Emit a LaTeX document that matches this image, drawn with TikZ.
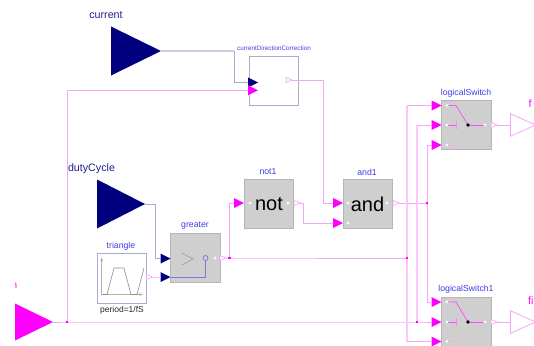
\documentclass[tikz,border=0pt]{standalone}
\usepackage{fontspec}
\setmainfont{Liberation Sans}
\usetikzlibrary{shapes.geometric,arrows.meta}
\definecolor{navyfill}{HTML}{00007F}
\definecolor{mag}{HTML}{FF00FF}
\definecolor{magline}{HTML}{F7A6F7}
\definecolor{magpale}{HTML}{FBC4FB}
\definecolor{navline}{HTML}{ABABD0}
\definecolor{bluetext}{HTML}{3C3CE6}
\definecolor{blockgray}{HTML}{CFCFCF}
\definecolor{namenavy}{HTML}{20208A}
\tikzset{
  tri/.style={isosceles triangle,isosceles triangle stretches,inner sep=0pt,outer sep=0pt,anchor=lower side},
  navybig/.style={tri,fill=navyfill,draw=none},
  magbig/.style={tri,fill=mag,draw=none},
  innavy/.style={tri,fill=navyfill,minimum width=10pt,minimum height=10pt},
  inmag/.style={tri,fill=mag,minimum width=10pt,minimum height=10pt},
  outhollow/.style={tri,draw=magline,fill=white,line width=.7pt,minimum width=5pt,minimum height=6pt},
  outbig/.style={tri,draw=magline,fill=white,line width=.8pt,minimum width=22.5pt,minimum height=25pt},
  block/.style={rectangle,fill=blockgray,draw=blockgray!88!black,line width=.5pt,minimum width=49.5pt,minimum height=49.5pt,inner sep=0pt,outer sep=0pt,anchor=north west},
  whitebox/.style={rectangle,fill=white,draw=navline,line width=.8pt,minimum width=49.5pt,minimum height=49.5pt,inner sep=0pt,outer sep=0pt,anchor=north west},
  blockname/.style={text=bluetext,font=\fontsize{8.7}{10}\selectfont,inner sep=0pt},
  conn/.style={draw=magline,line width=.9pt,line join=miter},
  connpale/.style={draw=magpale,line width=1.3pt},
  nconn/.style={draw=navline,line width=.9pt},
  junction/.style={rectangle,fill=mag,minimum size=2.8pt,inner sep=0pt,outer sep=0pt},
  pin/.style={circle,fill=white!85!blockgray,minimum size=3.2pt,inner sep=0pt,outer sep=0pt},
  portname/.style={inner sep=0pt,font=\fontsize{10.7}{12}\selectfont},
  bigword/.style={inner sep=0pt,font=\fontsize{20}{22}\selectfont},
  iconline/.style={draw=black!45,line width=.6pt},
  swline/.style={draw=mag!70!white,line width=.7pt}
}
\begin{document}
\begin{tikzpicture}[x=1pt,y=-1pt]
\useasboundingbox (0,0) rectangle (534,345);
% blocks
\node[whitebox] (cdc) at (249.3,56) {};
\node[blockname,font=\fontsize{6.3}{7}\selectfont] (cdcname) at (274,48.5) {currentDirectionCorrection};
\node[whitebox] (tria) at (97,253.5) {};
\node[blockname] (trianame) at (121,246) {triangle};
\node[inner sep=0pt,font=\fontsize{8.5}{10}\selectfont,text=black!85] (trilabel) at (122,310.5) {period=1/fS};
\node[block] (gr) at (170.5,233) {};
\node[blockname] (grname) at (195,226) {greater};
\node[block] (notb) at (244,179) {};
\node[bigword] (nottext) at (269,204) {not};
\node[blockname] (notname) at (268,172) {not1};
\node[block] (andb) at (343,179) {};
\node[bigword] (andtext) at (367.5,204) {and};
\node[blockname] (andname) at (367,172) {and1};
\node[block] (ls) at (441.5,100) {};
\node[blockname] (lsname) at (466,93) {logicalSwitch};
\node[block] (ls1) at (441.5,297) {};
\node[blockname] (ls1name) at (466,289.5) {logicalSwitch1};
% big ports
\node[navybig,minimum width=49pt,minimum height=50pt] (current) at (111,51) {};
\node[portname,text=namenavy] (currentname) at (106,15) {current};
\node[navybig,minimum width=49pt,minimum height=48pt] (duty) at (97,204) {};
\node[portname,text=namenavy] (dutyname) at (91.5,169) {dutyCycle};
\node[magbig,minimum width=37pt,minimum height=38pt] (fs) at (15,322) {};
\begin{scope}
\clip (15,275) rectangle (30,295);
\node[inner sep=0pt,text=mag,font=\fontsize{10}{12}\selectfont] (fsname) at (14.5,286) {n};
\end{scope}
\node[outbig] (fo) at (510.5,125) {};
\node[portname,text=mag,anchor=west] (foname) at (528.5,104) {f};
\node[outbig] (fio) at (510.5,322) {};
\node[portname,text=mag,anchor=west] (fioname) at (528,301) {fi};
% input triangles
\node[innavy] (cdci) at (248,82.5) {};
\node[inmag] (cdcs) at (248,90.3) {};
\node[innavy] (gru) at (160.5,258.5) {};
\node[innavy] (grv) at (160.5,277) {};
\node[inmag] (noti) at (234,203) {};
\node[inmag] (andu) at (333,203) {};
\node[inmag] (andv) at (333,223) {};
\node[inmag] (lsa) at (431.5,105.5) {};
\node[inmag] (lsb) at (431.5,125) {};
\node[inmag] (lsc) at (431.5,145) {};
\node[inmag] (lsoa) at (431.5,302) {};
\node[inmag] (lsob) at (431.5,322) {};
\node[inmag] (lsoc) at (431.5,341.5) {};
% output triangles
\node[outhollow] (cdco) at (286,80) {};
\node[outhollow] (triao) at (146.5,277) {};
\node[outhollow] (gro) at (220,258) {};
\node[outhollow] (noto) at (294,203) {};
\node[outhollow] (ando) at (393,203) {};
\node[outhollow] (lso) at (491,125) {};
\node[outhollow] (ls1o) at (491,322) {};
% junctions
\coordinate (jfs) at (67,322);
\coordinate (jgr) at (229.5,258);
\coordinate (jgr2) at (407,258);
\coordinate (jand) at (427,203);
\coordinate (jfs2) at (417,322);
% connectors
\draw[nconn,draw=navline!60!white,line width=1.4pt] (current.apex) -- (234,51);
\draw[nconn] (234,51) -- (234,82.5) -- (cdci.lower side);
\draw[conn] (jfs) -- (67,90.3) -- (cdcs.lower side);
\draw[conn] (fs.apex) -- (jfs) -- (jfs2) -- (lsob.lower side);
\draw[conn] (cdco.apex) -- (323.5,80) -- (323.5,203) -- (andu.lower side);
\draw[nconn] (duty.apex) -- (155.5,204) -- (155.5,258.5) -- (gru.lower side);
\draw[conn,draw=magpale] (triao.apex) -- (grv.lower side);
\draw[conn] (gro.apex) -- (jgr) -- (jgr2);
\draw[conn] (jgr) -- (229.5,203) -- (noti.lower side);
\draw[conn] (noto.apex) -- (303.5,203) -- (303.5,223) -- (andv.lower side);
\draw[conn] (ando.apex) -- (jand);
\draw[connpale] (jgr2) -- (407,105.5);
\draw[conn] (407,105.5) -- (lsa.lower side);
\draw[connpale] (jgr2) -- (407,341.5);
\draw[conn] (407,341.5) -- (lsoc.lower side);
\draw[connpale] (jfs2) -- (417,125);
\draw[conn] (417,125) -- (lsb.lower side);
\draw[conn] (jand) -- (427,145) -- (lsc.lower side);
\draw[conn] (jand) -- (427,302) -- (lsoa.lower side);
\draw[conn] (lso.apex) -- (fo.lower side);
\draw[conn] (ls1o.apex) -- (fio.lower side);
\node[junction] (j1) at (jfs) {};
\node[junction] (j2) at (jgr) {};
\node[junction] (j3) at (jgr2) {};
\node[junction] (j4) at (jand) {};
\node[junction] (j5) at (jfs2) {};
% triangle icon
\draw[iconline,draw=black!30,-{Latex[length=4pt,width=3pt]}] (101.6,294.5) -- (101.6,257);
\draw[iconline,draw=black!30,-{Latex[length=4pt,width=3pt]}] (101,294.5) -- (143.5,294.5);
\draw[iconline] (103,294.5) -- (107,294.5) -- (114,268) -- (124,268) -- (131,294.5) -- (137,294.5) -- (144,268);
% greater internals
\draw[iconline,draw=black!40] (182,253) -- (193,259) -- (182,265);
\node[circle,draw=navline!60!blue,line width=.6pt,minimum size=5pt,inner sep=0pt] (grc) at (205.5,258) {};
\draw[nconn,draw=navline!70!blue] (grv.apex) -- (205.5,277) -- (grc.south);
\node[pin] (p1) at (215,258) {};
\node[pin] (p2) at (250,203) {};
\node[pin] (p3) at (288,203) {};
\node[pin] (p4) at (348,203) {};
\node[pin] (p5) at (348,223) {};
\node[pin] (p6) at (387,203) {};
% switches
\foreach \ya/\yb/\yc in {105.5/125/145, 302/322/341.5}{
  \draw[swline] (447,\ya) -- (456,\ya) -- (468,\yb);
  \draw[swline] (447,\yb) -- (456,\yb);
  \draw[swline,draw=mag!50!white] (456,\yb-4) -- (456,\yb+4);
  \draw[swline,draw=magline] (447,\yc) -- (456,\yc);
  \draw[swline] (468,\yb) -- (485,\yb);
  \fill[black] (468,\yb) circle (1.9pt);
  \fill[white!85!blockgray] (447,\ya) circle (1.6pt) (447,\yb) circle (1.6pt) (447,\yc) circle (1.6pt) (485,\yb) circle (1.6pt);
}
\end{tikzpicture}
\end{document}
